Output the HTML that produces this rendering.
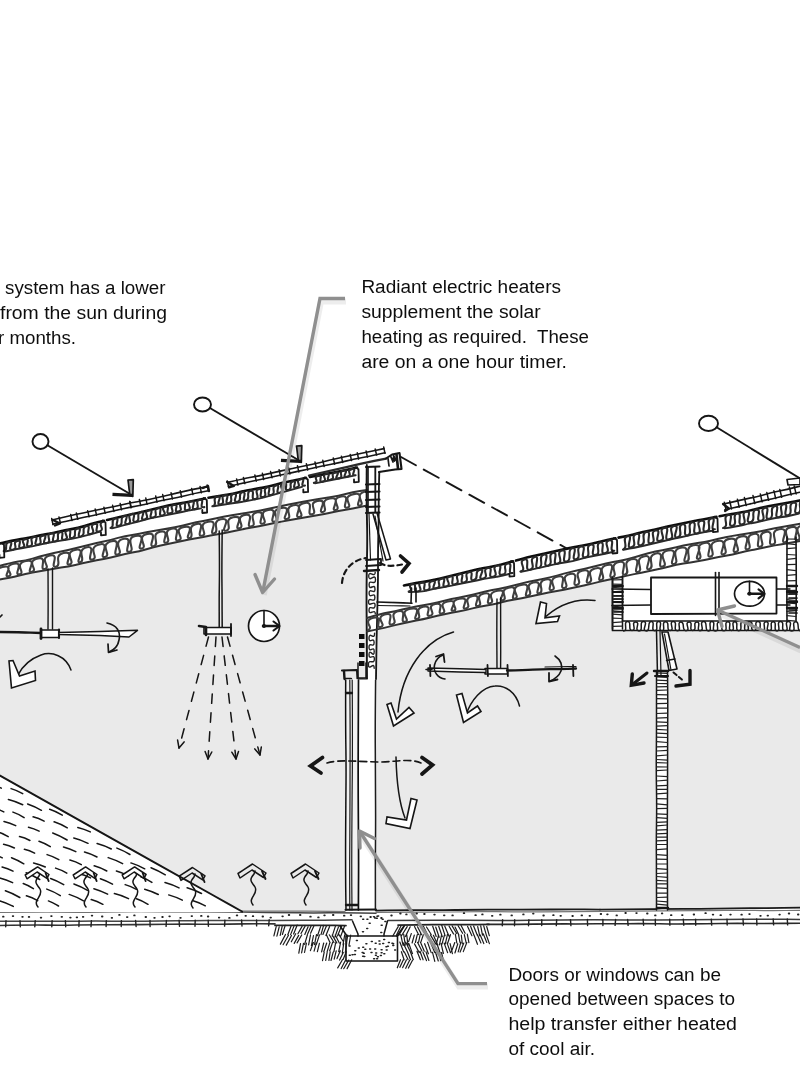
<!DOCTYPE html>
<html><head><meta charset="utf-8"><title>Section diagram</title>
<style>html,body{margin:0;padding:0;background:#fff}svg{display:block}</style>
</head><body>
<svg width="800" height="1077" viewBox="0 0 800 1077">
<defs><filter id="soft" x="0" y="0" width="100%" height="100%"><feGaussianBlur stdDeviation="0.4"/></filter></defs>
<rect width="800" height="1077" fill="#fff"/>
<g filter="url(#soft)" stroke-linecap="round" stroke-linejoin="round">
<path d="M0 579.3 L80 564 L125 554.5 L170 543.5 L250 528 L367 505.5 L367 679 L345.5 679 L345.5 912 L242 912 L0 775.6Z" fill="#eaeaea"/>
<path d="M375.5 629.6 L440 615 L540 594.5 L612.5 579 L612.5 630 L800 630 L800 908 L600 910 L375.5 911Z" fill="#eaeaea"/>
<path d="M0 912 Q31.3 911.9 47 911.8 Q62.7 911.8 78.3 911.9 Q94 912 109.7 911.8 Q125.3 911.6 141 911.6 Q156.7 911.6 172.3 911.7 Q188 911.9 203.7 911.8 Q219.3 911.8 235 912 Q250.7 912.3 266.3 912.4 Q282 912.6 297.7 912.8 Q313.3 913 329 912.8 Q344.7 912.7 360.3 913 L376 913.2" fill="none" stroke="#444" stroke-width="1.5" />
<path d="M0 910.6 Q31.4 910.4 47 910.2 Q62.7 910.1 78.4 910.3 Q94.1 910.5 109.8 910.4 Q125.5 910.3 141.1 910.1 Q156.8 909.8 172.5 910.3 Q188.2 910.7 203.9 910.8 Q219.5 911 235.2 911 Q250.9 911 266.6 911.1 Q282.3 911.2 298 911.2 Q313.6 911.1 329.3 911.4 L345 911.6" fill="none" stroke="#777" stroke-width="1.2" />
<path d="M376 910.6 Q408 910 424 910.2 Q440 910.3 456 910 Q472 909.7 488 909.7 Q504 909.7 520 909.7 Q536 909.6 552 909.5 Q568 909.3 584 909.4 L600 909.6" fill="none" stroke="#1a1a1a" stroke-width="1.8" />
<path d="M600 909.6 Q633.3 909.2 650 909.1 Q666.7 908.9 683.3 908.9 Q700 908.9 716.7 908.6 Q733.3 908.3 750 908.2 Q766.7 908.1 783.3 907.8 L800 907.6" fill="none" stroke="#1a1a1a" stroke-width="1.8" />
<path d="M376 912.3 Q406.3 912.2 421.4 912.2 Q436.6 912.1 451.7 912 Q466.9 911.8 482 911.7 Q497.1 911.6 512.3 911.8 Q527.4 912 542.6 911.9 Q557.7 911.8 572.9 911.7 Q588 911.6 603.1 911.4 Q618.3 911.3 633.4 911.1 Q648.6 910.9 663.7 910.8 Q678.9 910.7 694 910.6 Q709.1 910.6 724.3 910.4 Q739.4 910.2 754.6 910.4 Q769.7 910.7 784.9 910.5 L800 910.3" fill="none" stroke="#777" stroke-width="1.2" />
<path d="M0 921.3 Q32 921.2 48 921.3 Q64 921.4 80 921.2 Q96 921 112 921.2 Q128 921.3 144 921.2 Q160 921.1 176 920.8 Q192 920.5 208 920.4 Q224 920.4 240 920.5 Q256 920.6 272 920.4 Q288 920.2 304 920.2 Q320 920.3 336 920 L352 919.8" fill="none" stroke="#444" stroke-width="1.5" />
<path d="M388 920.6 Q419.7 920.4 435.5 920.3 Q451.4 920.2 467.2 920.3 Q483.1 920.4 498.9 920.4 Q514.8 920.4 530.6 920.2 Q546.5 920 562.3 919.9 Q578.2 919.8 594 919.8 Q609.8 919.9 625.7 920 Q641.5 920.1 657.4 920 Q673.2 919.9 689.1 919.7 Q704.9 919.4 720.8 919.4 Q736.6 919.4 752.5 919.3 Q768.3 919.3 784.2 919.3 L800 919.4" fill="none" stroke="#3a3a3a" stroke-width="1.5" />
<path d="M0 925.5 Q30.6 924.9 45.8 925.1 Q61.1 925.3 76.4 925 Q91.7 924.6 106.9 924.7 Q122.2 924.7 137.5 924.6 Q152.8 924.4 168.1 924.3 Q183.3 924.1 198.6 924.2 Q213.9 924.4 229.2 924.1 Q244.4 923.8 259.7 923.8 L275 923.9" fill="none" stroke="#333" stroke-width="1.6" />
<path d="M487 924.4 Q518.3 924.4 533.9 924.1 Q549.6 923.9 565.2 923.9 Q580.9 924 596.5 923.8 Q612.2 923.7 627.8 923.7 Q643.5 923.6 659.2 923.8 Q674.8 924.1 690.5 923.9 Q706.1 923.8 721.8 923.5 Q737.4 923.3 753.1 923.5 Q768.7 923.6 784.4 923.4 L800 923.2" fill="none" stroke="#2a2a2a" stroke-width="1.6" />
<path d="M6 920.8 L5.7 926.8 M20 920.8 L20.3 926.8 M35.2 920.7 L34.8 926.7 M52.1 920.7 L51.8 926.7 M65.4 920.7 L65.7 926.7 M79.1 920.6 L78.9 926.6 M91.4 920.6 L91 926.6 M106.3 920.6 L106.1 926.6 M121.4 920.6 L121.2 926.6 M135.6 920.5 L136.1 926.5 M150 920.5 L150.1 926.5 M166.4 920.4 L166.1 926.4 M179.1 920.3 L179.5 926.3 M195.2 920.2 L195 926.2 M208.2 920.2 L208.4 926.2 M224.9 920.1 L224.6 926.1 M241.6 920 L242 926 M256.6 919.9 L256.6 925.9 M269.2 919.8 L268.7 925.8 M502.6 919.8 L502.3 925.8 M514.7 919.7 L514.5 925.7 M528.9 919.7 L528.5 925.7 M541.8 919.6 L541.7 925.6 M556.7 919.6 L556.3 925.6 M570.5 919.6 L570.9 925.6 M587.4 919.5 L587.6 925.5 M602.9 919.5 L602.9 925.5 M615.6 919.4 L615.1 925.4 M627.6 919.4 L628.1 925.4 M643.1 919.3 L643.6 925.3 M655.3 919.3 L655.4 925.3 M669.7 919.3 L669.9 925.3 M683.3 919.2 L683.8 925.2 M695.6 919.2 L695.7 925.2 M711.3 919.1 L711.7 925.1 M727 919.1 L727.2 925.1 M743 919 L743.4 925 M756.7 919 L756.9 925 M773.2 918.9 L773.6 924.9 M787.3 918.9 L787.6 924.9 " fill="none" stroke="#222" stroke-width="1.4" />
<path d="M3 916.7 h0.6 M12.7 916.1 h0.6 M22.2 916.8 h0.6 M28.7 916.9 h0.6 M40.7 917.7 h0.6 M51.1 916.1 h0.6 M61.5 916.8 h0.6 M70.1 917.6 h0.6 M76.6 917.3 h0.6 M82.8 916.8 h0.6 M91.7 915.6 h0.6 M101.9 916.5 h0.6 M111.6 917.8 h0.6 M119.1 914.9 h0.6 M126.9 917.1 h0.6 M134.1 915.4 h0.6 M145.5 917 h0.6 M154.2 917.8 h0.6 M162.2 917 h0.6 M169.3 916.3 h0.6 M180.2 917.8 h0.6 M191.5 916.1 h0.6 M201 915.9 h0.6 M207.8 916.5 h0.6 M218.8 917.6 h0.6 M229.1 917.9 h0.6 M236.7 915.4 h0.6 M245.4 915.8 h0.6 M252.7 916.2 h0.6 M262.5 916.5 h0.6 M270.4 917.6 h0.6 M282.3 916.3 h0.6 M288.7 915 h0.6 M299.9 915 h0.6 M310.2 916.7 h0.6 M318.1 917.4 h0.6 M324.2 915.3 h0.6 M332.9 915 h0.6 M343.9 915.7 h0.6 M350.7 915.1 h0.6 M360.5 916.3 h0.6 M370.3 917 h0.6 M381.1 918 h0.6 M391.2 915.5 h0.6 M400.1 913.5 h0.6 M406.1 914.4 h0.6 M416.4 913.5 h0.6 M424.1 914 h0.6 M434.2 914.6 h0.6 M443.9 915.3 h0.6 M452.3 915.4 h0.6 M463.7 913.2 h0.6 M475.3 915.2 h0.6 M482.1 914.4 h0.6 M491.9 915.8 h0.6 M500.1 914.7 h0.6 M511.4 915.4 h0.6 M523.1 914.4 h0.6 M533 913.6 h0.6 M543.3 915.5 h0.6 M553.1 915.2 h0.6 M560.4 915.8 h0.6 M572.3 916 h0.6 M581.5 915.4 h0.6 M589.5 915.8 h0.6 M600.6 914 h0.6 M607.1 914.3 h0.6 M616.4 915.4 h0.6 M625.3 913 h0.6 M636.2 913.1 h0.6 M647 913.5 h0.6 M655 915.4 h0.6 M661.8 913.4 h0.6 M670.9 915.2 h0.6 M682 915.1 h0.6 M693.6 914.5 h0.6 M705.3 913.2 h0.6 M712.7 914.6 h0.6 M720.4 915.2 h0.6 M730.2 914.6 h0.6 M741.3 914.7 h0.6 M749.2 914.1 h0.6 M760.2 915.8 h0.6 M767.5 915.6 h0.6 M779.3 914.6 h0.6 M788.7 913.5 h0.6 M797.9 914.5 h0.6 " fill="none" stroke="#222" stroke-width="1.8" />
<path d="M-3 566.7 Q11.2 562.8 18.3 561.6 Q25.5 560.5 32.6 558.6 Q39.7 556.6 46.8 554.8 Q53.9 553.1 61 551.6 Q68.2 550.2 75.3 548.3 Q82.4 546.5 89.5 544.8 Q96.6 543 103.7 541.5 Q110.8 539.9 118 537.9 Q125.1 536 132.2 534.9 Q139.3 533.8 146.4 532.3 Q153.5 530.8 160.7 529.7 Q167.8 528.7 174.9 527.2 Q182 525.8 189.1 524 Q196.2 522.2 203.3 521 Q210.5 519.7 217.6 518.1 Q224.7 516.5 231.8 515.3 Q238.9 514.1 246 512.9 Q253.2 511.7 260.3 510.4 Q267.4 509.1 274.5 507.5 Q281.6 505.9 288.7 504.5 Q295.8 503.1 303 501.7 Q310.1 500.3 317.2 499.2 Q324.3 498.1 331.4 497 Q338.5 495.8 345.7 494 Q352.8 492.2 359.9 491.1 L367 490" fill="none" stroke="#333" stroke-width="2" />
<path d="M-3 579.9 Q11.2 577.5 18.3 575.7 Q25.5 573.9 32.6 572.6 Q39.7 571.3 46.8 570 Q53.9 568.7 61 567.6 Q68.2 566.5 75.3 564.9 Q82.4 563.3 89.5 561.8 Q96.6 560.3 103.7 559 Q110.8 557.6 118 555.8 Q125.1 554 132.2 552.6 Q139.3 551.3 146.4 549.2 Q153.5 547.1 160.7 545.6 Q167.8 544.1 174.9 542.5 Q182 540.9 189.1 539.5 Q196.2 538.1 203.3 536.9 Q210.5 535.7 217.6 534.3 Q224.7 532.8 231.8 531.4 Q238.9 530 246 528.6 Q253.2 527.3 260.3 526 Q267.4 524.7 274.5 523.1 Q281.6 521.5 288.7 520.2 Q295.8 518.8 303 517.7 Q310.1 516.6 317.2 515.2 Q324.3 513.9 331.4 512.4 Q338.5 511 345.7 509.8 Q352.8 508.7 359.9 507.1 L367 505.5" fill="none" stroke="#333" stroke-width="2" />
<path d="M-3.8 579 C2.9 577.4 -9 569.9 2.5 567.1 C16.4 563.8 1.2 578 8.7 576.2 C15.4 574.6 0.7 566.9 13.7 563.8 C25.5 561 12.3 576 19.7 574.2 C26 572.7 13 564.2 25.8 561.1 C39.4 557.9 24.3 573.6 32 571.8 C39 570.1 24.8 561.5 37.9 558.4 C48.5 555.9 38.4 570.6 44.8 569 C51.9 567.4 37.8 558.5 49.9 555.6 C61 553 48.7 568.4 56.2 566.7 C62.5 565.1 52.7 555.6 63.4 553 C76.5 549.9 62.7 566.1 69.4 564.5 C76.5 562.8 62.9 552.7 74.8 549.9 C88.2 546.7 73.7 563.8 80.2 562.2 C86.8 560.7 75.1 550 86.9 547.2 C97.3 544.8 85.1 561.3 92.6 559.5 C99.7 557.8 86.1 547.5 99.5 544.4 C111.7 541.5 97.4 558.8 105 557 C112.4 555.2 98 544.4 111.7 541.2 C123.5 538.4 110.2 556.3 117.7 554.5 C125 553 110.8 541.6 123.9 538.8 C134.5 536.7 122.6 553.1 129.3 551.8 C136.5 550.4 123.9 538.1 135.5 535.9 C149.2 533.2 134.5 550 141.7 548.5 C148.8 547.2 135 536.3 147.4 533.9 C160.1 531.4 146.3 547.6 153.6 546.2 C160.7 544.8 149.7 533.7 160.1 531.7 C171.9 529.3 159.8 544 166.2 542.7 C172.8 541.4 160.8 530.9 171.5 528.8 C183.6 526.4 170.9 541.9 178.5 540.4 C185.9 539 171.5 529.3 184.1 526.9 C197.2 524.3 183.2 539.3 189.5 538.1 C196 536.8 184.7 526.3 196.8 523.9 C207.3 521.8 194.6 537.2 202.2 535.7 C209 534.4 195.7 524.2 208.2 521.8 C220.5 519.3 207.4 534.7 214.1 533.4 C220.7 532.1 210.4 521.3 220.7 519.2 C233.8 516.7 219 532.1 225.9 530.7 C233.5 529.2 222.6 519.2 233.1 517.2 C246.7 514.5 232.4 529.7 239.2 528.3 C246.3 526.9 233.5 517.1 244.7 514.9 C256.7 512.6 243.7 527.9 251.4 526.4 C258.5 525 246.5 514.4 257.3 512.3 C267.8 510.3 255.8 525.1 262.8 523.7 C269.7 522.4 255.7 512.3 268.4 509.9 C280.3 507.7 267.3 523 274.7 521.6 C282 520.3 267.3 510.6 281.1 508 C294.7 505.5 279.4 520.4 286.8 519 C294 517.6 282.1 507.4 293.4 505.3 C306 502.9 292 518.4 299.4 517 C306.9 515.6 291 505.5 304.9 502.9 C315.4 501 305.3 515.5 311.9 514.3 C319 513 306.7 502.9 317.4 500.9 C330.1 498.5 315.9 513.3 322.9 512 C329.5 510.8 317.7 500.7 329.8 498.5 C343.2 496 329.1 511.3 335.5 510.1 C342.8 508.8 328.6 498.9 341.2 496.5 C352.5 494.4 340 509 347.4 507.6 C354.1 506.3 339.8 496.7 353.7 494.1 C367.3 491.6 353.1 506.8 360 505.5 C366.4 504.3 352.3 494 365.8 491.5" fill="none" stroke="#404040" stroke-width="2.1" />
<path d="M0 543.6 Q13 540.5 19.5 539.4 Q26 538.4 32.5 537 Q39 535.6 45.5 534.4 Q52 533.2 58.5 531.7 Q65 530.1 71.5 529.1 Q78 528 84.5 525.9 Q91 523.8 97.5 522.3 L104 520.8" fill="none" stroke="#111" stroke-width="2.6" />
<path d="M5 551.5 Q18.6 548.6 25.4 547.5 Q32.1 546.5 38.9 544.8 Q45.7 543.1 52.5 542 Q59.3 540.8 66.1 539.7 Q72.9 538.7 79.6 537.1 Q86.4 535.5 93.2 533.6 L100 531.6" fill="none" stroke="#2a2a2a" stroke-width="1.9" />
<path d="M3.7 551 C9.4 549.9 2.9 543.4 8.6 542.3 C15.9 540.8 5.6 551.1 12.9 549.7 C19.2 548.4 11.2 542.2 17.5 540.9 C23.6 539.7 15.5 549 21.6 547.8 C28.9 546.3 18.2 540.6 25.4 539.2 C31.6 537.9 23.3 547.4 29.5 546.2 C35.7 544.9 27.7 538.3 33.9 537 C41 535.6 31 546.1 38 544.6 C44.6 543.3 36.2 536.9 42.8 535.6 C50 534.1 39.4 544.6 46.6 543.1 C53.1 541.8 44.6 534.6 51 533.3 C58.4 531.8 48.4 542.8 55.7 541.3 C61.3 540.1 54.6 533.2 60.2 532.1 C65.8 530.9 58.7 540.9 64.3 539.8 C71.6 538.3 60.8 531.7 68 530.3 C73.7 529.1 66.5 539.2 72.3 538 C78.3 536.8 71.6 529.7 77.5 528.5 C84 527 74.6 537.8 81.1 536.3 C87.2 534.6 80 527.8 86.2 526.2 C92.6 524.4 84.3 535.7 90.7 533.9 C97.6 532.1 87.6 525.9 94.4 524.1 C101.5 522.1 92.2 533.4 99.3 531.4 C106.3 529.5 96.2 523.7 103.2 521.8" fill="none" stroke="#2a2a2a" stroke-width="2.1" />
<path d="M107 520 Q119.2 517.1 125.4 515.7 Q131.5 514.3 137.6 513 Q143.8 511.6 149.9 510 Q156 508.4 162.1 506.9 Q168.2 505.4 174.4 504.3 Q180.5 503.3 186.6 502.2 Q192.8 501.1 198.9 499.7 L205 498.4" fill="none" stroke="#111" stroke-width="2.6" />
<path d="M112 528.4 Q124.7 525 131.1 523.4 Q137.4 521.8 143.8 520.1 Q150.1 518.3 156.5 517.1 Q162.9 515.9 169.2 514.6 Q175.6 513.4 181.9 512 Q188.3 510.5 194.6 509.5 L201 508.4" fill="none" stroke="#2a2a2a" stroke-width="1.9" />
<path d="M110.5 528 C116 526.5 109.4 520.1 114.9 518.6 C121.6 516.8 112.6 527.5 119.2 525.7 C124.7 524.4 118.6 517.2 124.1 515.9 C131.2 514.3 120.7 525.5 127.9 523.9 C133.6 522.6 125.7 515.2 131.5 513.9 C138.2 512.4 129.2 523.1 136 521.6 C141.7 520.2 135 513.4 140.7 512 C147.6 510.5 137.7 521 144.5 519.4 C151.5 517.8 141.8 511.9 148.8 510.3 C155.9 508.7 146.2 519 153.2 517.4 C159.7 515.9 151.6 509.7 158.1 508.2 C163.9 506.9 156.6 516.7 162.4 515.4 C169.3 513.8 158.4 508.3 165.3 506.7 C171.7 505.2 163.6 514.8 170 513.3 C176.7 512.1 167.5 506.2 174.1 505 C180.4 503.8 172 512.7 178.3 511.5 C185 510.2 175.9 504.5 182.7 503.2 C188.4 502.1 181.6 511.2 187.2 510.1 C194.3 508.8 184 502.6 191.1 501.3 C198.3 499.9 188.3 510.4 195.6 509 C201.2 507.9 193.8 500.9 199.4 499.9 C206.4 498.5 197.4 508.4 204.4 507.1" fill="none" stroke="#2a2a2a" stroke-width="2.1" />
<path d="M208.5 497.7 Q220.7 496 226.8 494.9 Q232.9 493.7 239 492.2 Q245.1 490.7 251.2 489.7 Q257.2 488.7 263.3 487.6 Q269.4 486.6 275.5 484.8 Q281.6 483 287.7 481.8 Q293.8 480.6 299.9 479.2 L306 477.8" fill="none" stroke="#111" stroke-width="2.6" />
<path d="M213.5 506.3 Q226.1 504.1 232.5 503.3 Q238.8 502.6 245.1 501.3 Q251.4 500 257.8 498.9 Q264.1 497.8 270.4 495.7 Q276.7 493.6 283 492.1 Q289.4 490.7 295.7 488.7 L302 486.8" fill="none" stroke="#2a2a2a" stroke-width="1.9" />
<path d="M212.4 506.3 C218.8 505.1 210.8 497.7 217.2 496.5 C224.1 495.3 214 505.5 220.9 504.3 C226.4 503.3 219.3 496.1 224.8 495.1 C231.6 493.9 222.3 504.3 229 503.1 C234.6 502.1 227.8 494.9 233.3 493.9 C240.5 492.6 230.4 503 237.6 501.7 C243 500.7 237 493.3 242.4 492.3 C248.2 491.3 240.2 501.5 246 500.5 C251.3 499.5 245.1 491.7 250.4 490.7 C256.2 489.7 249.5 500.2 255.2 499.1 C261.3 498 252.8 490.2 258.9 489.1 C264.9 487.8 257 498.3 263 497 C268.9 495.7 261.2 488.8 267 487.4 C273 486 265 496.4 270.9 495 C277.7 493.5 269.5 487 276.2 485.4 C281.7 484.1 274 494 279.5 492.8 C286.2 491.2 276.8 484.6 283.5 483.1 C289.6 481.7 282.4 491.4 288.5 490 C294 488.7 287.3 482.7 292.9 481.5 C298.5 480.2 290.6 488.9 296.2 487.6 C303.3 486 293.6 480.8 300.7 479.1 C307.3 477.6 298.3 487.1 304.9 485.6" fill="none" stroke="#2a2a2a" stroke-width="2.1" />
<path d="M310 476.9 Q325.7 474 333.5 472.5 Q341.3 471 349.2 469.3 L357 467.6" fill="none" stroke="#111" stroke-width="2.6" />
<path d="M315 483.4 Q327.7 480.8 334 479.5 Q340.3 478.2 346.7 477 L353 475.9" fill="none" stroke="#2a2a2a" stroke-width="1.9" />
<path d="M313.9 482.9 C320.7 481.5 311.6 477.2 318.5 475.9 C323.9 474.8 317.2 482.7 322.6 481.6 C329.2 480.3 319.8 475.1 326.4 473.8 C332.7 472.6 323.9 481.1 330.2 479.8 C336.8 478.5 328.9 473.8 335.4 472.5 C342.5 471.1 331.7 479.8 338.7 478.4 C345 477.2 337.2 471.8 343.5 470.5 C350.7 469.1 339.9 478.1 347.1 476.7 C354 475.4 344.9 470.5 351.8 469.1 C358.4 467.9 349 476.5 355.6 475.2" fill="none" stroke="#2a2a2a" stroke-width="2.1" />
<path d="M1 542.8 L4 544.8 L4.3 557.3 L-0.5 557.8 L-0.5 554.8" fill="none" stroke="#151515" stroke-width="1.8" />
<path d="M102.5 520.4 L105.5 522.4 L105.8 534.9 L101 535.4 L101 532.4" fill="none" stroke="#151515" stroke-width="1.8" />
<path d="M203.8 498 L206.8 500 L207.1 512.5 L202.3 513 L202.3 510" fill="none" stroke="#151515" stroke-width="1.8" />
<path d="M304.8 477.4 L307.8 479.4 L308.1 491.9 L303.3 492.4 L303.3 489.4" fill="none" stroke="#151515" stroke-width="1.8" />
<path d="M355.5 467.3 L358.5 469.3 L358.8 481.8 L354 482.3 L354 479.3" fill="none" stroke="#151515" stroke-width="1.8" />
<path d="M52 520 Q67.5 516.3 75.3 514.5 Q83.1 512.8 90.9 511.2 Q98.7 509.6 106.6 508 Q114.4 506.5 122.2 504.7 L130 503" fill="none" stroke="#151515" stroke-width="1.6" />
<path d="M52.9 524.1 Q68.5 520.9 76.3 519 Q84.1 517.1 91.9 515.7 Q99.8 514.3 107.5 512.3 Q115.3 510.4 123.1 508.7 L130.9 507.1" fill="none" stroke="#151515" stroke-width="1.6" />
<path d="M51.7 518.5 L53 524.7 M59 516.9 L60.4 523.1 M70.7 514.4 L72 520.6 M76.4 513.1 L77.8 519.3 M87.7 510.7 L89.1 516.8 M95.2 509.1 L96.5 515.2 M103.9 507.2 L105.2 513.3 M112.6 505.3 L113.9 511.4 M120.2 503.6 L121.5 509.8 M129.7 501.5 L131 507.7 " fill="none" stroke="#151515" stroke-width="1.5" />
<path d="M130 503 Q145.6 500.2 153.3 498.5 Q161.1 496.8 168.8 495 Q176.5 493.3 184.2 491.4 Q191.9 489.5 199.7 488.1 L207.5 486.6" fill="none" stroke="#151515" stroke-width="1.6" />
<path d="M130.9 507.1 Q146.4 504.1 154.1 502.2 Q161.8 500.3 169.6 499 Q177.5 497.7 185.1 495.7 Q192.8 493.7 200.6 492.2 L208.4 490.7" fill="none" stroke="#151515" stroke-width="1.6" />
<path d="M129.9 501.5 L131.2 507.6 M139.4 499.5 L140.7 505.6 M145.8 498.1 L147.1 504.3 M155.7 496 L157 502.2 M162.7 494.6 L164 500.7 M171.1 492.8 L172.4 498.9 M180.3 490.8 L181.6 497 M191.6 488.4 L192.9 494.6 M200.1 486.6 L201.4 492.8 M207.2 485.1 L208.5 491.3 " fill="none" stroke="#151515" stroke-width="1.5" />
<path d="M227.6 482.4 Q243.2 478.8 251.1 477.3 Q258.9 475.8 266.7 474.1 Q274.6 472.5 282.4 470.6 Q290.1 468.8 298 467.2 Q305.8 465.6 313.7 464 Q321.5 462.4 329.2 460.3 Q337 458.3 344.8 456.7 Q352.7 455.1 360.5 453.5 Q368.4 451.9 376.2 450.3 L384 448.6" fill="none" stroke="#151515" stroke-width="1.6" />
<path d="M228.5 486.5 Q244.1 482.8 251.9 481.2 Q259.7 479.6 267.6 478 Q275.4 476.4 283.2 474.5 Q291 472.7 298.8 471.1 Q306.7 469.6 314.5 467.8 Q322.3 466 330.1 464.5 Q338 462.9 345.8 461.1 Q353.6 459.3 361.4 457.8 Q369.3 456.2 377.1 454.5 L384.9 452.7" fill="none" stroke="#151515" stroke-width="1.6" />
<path d="M227.3 480.9 L228.6 487.1 M236.6 478.9 L237.9 485.1 M243.4 477.4 L244.8 483.6 M254.9 475 L256.3 481.1 M262.4 473.3 L263.7 479.5 M270.6 471.6 L272 477.7 M279.1 469.7 L280.4 475.9 M288.5 467.7 L289.9 473.9 M297.5 465.8 L298.8 471.9 M306.4 463.8 L307.7 470 M315 462 L316.4 468.1 M322.8 460.3 L324.1 466.4 M333.3 458 L334.6 464.2 M341.4 456.3 L342.7 462.4 M350.2 454.4 L351.5 460.5 M357.3 452.8 L358.6 459 M366.1 450.9 L367.4 457.1 M375.2 449 L376.6 455.1 M383.7 447.1 L385 453.3 " fill="none" stroke="#151515" stroke-width="1.5" />
<path d="M53 520 L60 523.5 L55 525.5" fill="none" stroke="#151515" stroke-width="2.2" />
<path d="M227 482 L234 486 L229 487.5" fill="none" stroke="#151515" stroke-width="2.2" />
<path d="M203 488 L208 486 L209 491" fill="none" stroke="#151515" stroke-width="2.3" />
<ellipse cx="40.5" cy="441.5" rx="8" ry="7.5" fill="#fff" stroke="#151515" stroke-width="1.9"/>
<path d="M47.4 445.3 Q89.2 469.9 110.1 482.2 L131 494.5" fill="none" stroke="#151515" stroke-width="1.9" />
<ellipse cx="202.5" cy="404.5" rx="8.5" ry="7" fill="#fff" stroke="#151515" stroke-width="1.9"/>
<path d="M209.9 408 Q254.9 434.5 277.5 447.8 L300 461" fill="none" stroke="#151515" stroke-width="1.9" />
<ellipse cx="708.5" cy="423.4" rx="9.5" ry="7.6" fill="#fff" stroke="#151515" stroke-width="1.9"/>
<path d="M716.6 427.3 Q758.8 453.1 779.9 466.1 L801 479" fill="none" stroke="#151515" stroke-width="1.9" />
<path d="M128 480 L133.3 479.7 L132.8 496.5 L129.9 495.5Z" fill="#999" stroke="#151515" stroke-width="1.7" />
<path d="M112.5 494.3 L132.5 495.3" fill="none" stroke="#151515" stroke-width="3.2" stroke-linecap="butt"/>
<path d="M296.5 446 L301.8 445.7 L301.3 462.5 L298.4 461.5Z" fill="#999" stroke="#151515" stroke-width="1.7" />
<path d="M281 460.3 L301 461.3" fill="none" stroke="#151515" stroke-width="3.2" stroke-linecap="butt"/>
<path d="M787 479.5 L800 478 L800 484.5 L788 485Z" fill="#fff" stroke="#151515" stroke-width="1.6" />
<path d="M366.8 465 Q366.4 491.8 366.7 505.1 Q367 518.5 367.2 531.9 Q367.3 545.2 367 558.6 Q366.7 572 366.6 585.4 Q366.5 598.8 366.6 612.1 Q366.7 625.5 366.8 638.9 Q366.9 652.3 366.9 665.6 L367 679" fill="none" stroke="#151515" stroke-width="1.9" />
<path d="M379.3 472 Q378.6 497.9 378.7 510.8 Q378.7 523.8 378.3 536.7 Q378 549.6 378 562.6 Q378.1 575.5 377.8 588.4 Q377.6 601.4 377.2 614.3 Q376.9 627.3 376.6 640.2 Q376.4 653.1 376.2 666.1 L376 679" fill="none" stroke="#151515" stroke-width="1.8" />
<path d="M309 475.5 Q334.6 469.8 347.5 466.8 Q360.3 463.9 373.1 461.2 L386 458.6" fill="none" stroke="#2a2a2a" stroke-width="2.3" />
<path d="M379 472 L395 469.5 L401.5 469 L399.5 453 L392 454.5 L386 458.5" fill="none" stroke="#151515" stroke-width="2.1" />
<path d="M388 458.5 L389 466" fill="none" stroke="#151515" stroke-width="1.7" />
<path d="M396.5 454.5 L398 468.5" fill="none" stroke="#151515" stroke-width="2.6" />
<path d="M390.5 456 L393 462 L391 457 L394.5 461 L393.5 455.5 L396 460" fill="none" stroke="#151515" stroke-width="1.7" />
<path d="M366 467 L379.5 466.5" fill="none" stroke="#151515" stroke-width="2.1" />
<path d="M366 484.5 L379.5 484" fill="none" stroke="#151515" stroke-width="2.1" />
<path d="M366 492 L379.5 491.5" fill="none" stroke="#151515" stroke-width="2.1" />
<path d="M366 500 L379.5 499.5" fill="none" stroke="#151515" stroke-width="2.1" />
<path d="M366 507 L379.5 506.5" fill="none" stroke="#151515" stroke-width="2.1" />
<path d="M366 513 L379.5 512.5" fill="none" stroke="#151515" stroke-width="2.1" />
<path d="M368 467 L368 512" fill="none" stroke="#151515" stroke-width="1.6" />
<path d="M375.3 467 L375.3 512" fill="none" stroke="#151515" stroke-width="1.8" />
<path d="M373 514 L386 560 L390.5 559 L377 513" fill="none" stroke="#151515" stroke-width="1.5" />
<path d="M375 516 L383 561" fill="none" stroke="#151515" stroke-width="1.2" />
<path d="M369 514 L370.5 560" fill="none" stroke="#151515" stroke-width="1.2" />
<path d="M366 560 L381 559 L381 565 L366 566" fill="none" stroke="#151515" stroke-width="1.8" />
<path d="M364 571 L379 570" fill="none" stroke="#151515" stroke-width="2.4" />
<path d="M375.2 572.3 C375.2 578.5 368.7 569.7 368.7 575.9 C368.7 583.6 375.5 572.1 375.5 579.8 C375.5 586.4 369.1 578.3 369.1 584.8 C369.1 592 375 582 375 589.2 C375 595.1 369.1 587.2 369.1 593.1 C369.1 599.9 374.9 590.8 374.9 597.6 C374.9 603.8 368.5 595.8 368.5 602 C368.5 607.9 375.1 599.5 375.1 605.3 C375.1 611.8 369 603.8 369 610.4 C369 616.2 375.3 608 375.3 613.8" fill="none" stroke="#222" stroke-width="1.4" />
<path d="M374.6 633.3 C374.6 641.1 369 630.5 369 638.2 C369 644.6 374.1 636.1 374.1 642.5 C374.1 648.6 369 641.2 369 647.3 C369 654.1 374.2 644.7 374.2 651.5 C374.2 659.3 369 647 369 654.8 C369 661 374.4 652.9 374.4 659.1 C374.4 665.1 368.4 658.3 368.4 664.3 C368.4 671.9 374.2 660.7 374.2 668.3" fill="none" stroke="#222" stroke-width="1.4" />
<path d="M342 583 C343 570 352 560 366 558" fill="none" stroke="#151515" stroke-width="2.2" stroke-dasharray="5 4"/>
<path d="M380 563 C386 567 394 566 402 564.5" fill="none" stroke="#151515" stroke-width="2.2" stroke-dasharray="5 4"/>
<path d="M400.5 556 L409 563.5 L402 572" fill="none" stroke="#151515" stroke-width="3.6" stroke-linejoin="miter"/>
<rect x="359" y="634" width="5.5" height="5" fill="#111"/>
<rect x="359" y="643" width="5.5" height="5" fill="#111"/>
<rect x="359" y="652" width="5.5" height="5" fill="#111"/>
<rect x="359" y="661" width="5.5" height="5" fill="#111"/>
<path d="M342 670.5 L357 670 L357.5 679 L366 679.5" fill="none" stroke="#151515" stroke-width="2.1" />
<path d="M344 671 L344.5 679 L351 679" fill="none" stroke="#151515" stroke-width="2.4" />
<path d="M348 680 L347.5 692 L351 692 L351 680" fill="none" stroke="#151515" stroke-width="1.7" />
<path d="M358 663 L358 678 L366 678 L366 663" fill="none" stroke="#151515" stroke-width="1.5" />
<rect x="345.5" y="679.5" width="30" height="230.5" fill="#fff"/>
<rect x="345.5" y="679.5" width="12.5" height="230.5" fill="#f2f2f2"/>
<path d="M345.7 680 Q345.5 726 345.9 749 Q346.2 772 345.9 795 Q345.7 818 345.6 841 Q345.5 864 345.7 887 L346 910" fill="none" stroke="#111" stroke-width="1.5" />
<path d="M349.8 680 Q350.2 726 350.1 749 Q350.1 772 350 795 Q350 818 349.8 841 Q349.6 864 349.7 887 L349.8 910" fill="none" stroke="#1a1a1a" stroke-width="1.2" />
<path d="M352.2 680 Q352.5 726 352.4 749 Q352.4 772 352.1 795 Q351.9 818 351.8 841 Q351.7 864 351.8 887 L352 910" fill="none" stroke="#1a1a1a" stroke-width="1.2" />
<path d="M358.5 680 Q358.3 726 358.2 749 Q358.1 772 358.2 795 Q358.3 818 358.5 841 Q358.7 864 358.5 887 L358.4 910" fill="none" stroke="#111" stroke-width="1.7" />
<path d="M375.6 680 Q375.1 726 375.3 749 Q375.4 772 375.5 795 Q375.7 818 375.5 841 Q375.3 864 375.4 887 L375.4 910" fill="none" stroke="#1a1a1a" stroke-width="1.5" />
<path d="M346 905 L358 905" fill="none" stroke="#151515" stroke-width="2.3" />
<path d="M345.5 909.7 L376 909.5" fill="none" stroke="#151515" stroke-width="1.9" />
<path d="M346 693 L352 693" fill="none" stroke="#151515" stroke-width="2.3" />
<path d="M612.5 579 L680 564.5 L800 541 L800 630 L612.5 630Z" fill="#fff"/>
<path d="M367 618 Q381.1 613.9 388.1 612.6 Q395.1 611.3 402.2 609.5 Q409.2 607.7 416.2 606.4 Q423.3 605.2 430.3 603.9 Q437.3 602.5 444.4 600.7 Q451.4 598.9 458.4 597.7 Q465.5 596.4 472.5 594.7 Q479.5 592.9 486.5 591.3 Q493.6 589.7 500.6 588.5 Q507.6 587.2 514.7 585.2 Q521.7 583.2 528.7 581.7 Q535.8 580.3 542.8 578.9 Q549.8 577.5 556.9 575.6 Q563.9 573.6 570.9 571.9 Q578 570.2 585 568.7 Q592 567.2 599.1 565.3 Q606.1 563.4 613.1 562.1 Q620.2 560.8 627.2 559.2 Q634.2 557.6 641.3 555.3 Q648.3 553.1 655.3 551.6 Q662.4 550.2 669.4 548.7 Q676.4 547.2 683.5 545.5 Q690.5 543.9 697.5 542.9 Q704.5 542 711.6 540.4 Q718.6 538.8 725.6 537.3 Q732.7 535.8 739.7 534.8 Q746.7 533.7 753.8 532.4 Q760.8 531.2 767.8 529.7 Q774.9 528.2 781.9 527.1 Q788.9 526 796 524.6 L803 523.2" fill="none" stroke="#333" stroke-width="2" />
<path d="M367 631.5 Q381.1 628.7 388.1 626.9 Q395.1 625.2 402.2 623.6 Q409.2 622 416.2 620.6 Q423.3 619.2 430.3 617.5 Q437.3 615.8 444.4 614.3 Q451.4 612.7 458.4 611.5 Q465.5 610.3 472.5 608.4 Q479.5 606.5 486.5 605.4 Q493.6 604.4 500.6 602.5 Q507.6 600.7 514.7 599.6 Q521.7 598.4 528.7 596.7 Q535.8 595 542.8 593.7 Q549.8 592.3 556.9 591 Q563.9 589.7 570.9 588.2 Q578 586.7 585 585.2 Q592 583.7 599.1 581.9 Q606.1 580 613.1 578.7 Q620.2 577.3 627.2 575.6 Q634.2 574 641.3 572.7 Q648.3 571.4 655.3 569.8 Q662.4 568.3 669.4 566.5 Q676.4 564.7 683.5 563.6 Q690.5 562.6 697.5 561.3 Q704.5 560 711.6 558.5 Q718.6 557 725.6 555.8 Q732.7 554.6 739.7 552.8 Q746.7 551 753.8 549.7 Q760.8 548.3 767.8 546.8 Q774.9 545.3 781.9 544.3 Q788.9 543.2 796 541.8 L803 540.4" fill="none" stroke="#333" stroke-width="2" />
<path d="M367.9 629.9 C375 628 361 621 373.5 617.8 C384.5 615 373.9 628.7 380.7 626.9 C387.7 625.1 373 617.6 385.7 614.3 C396.5 611.5 384.7 626.3 392.2 624.4 C399.5 622.5 387.2 614 398.2 611.1 C408.8 609 398.3 623.1 405.2 621.7 C411.6 620.5 396.7 611.3 410.7 608.7 C424.7 606 410.5 620.2 417 619 C423.7 617.7 412.5 608.7 423.1 606.7 C434.9 604.5 423.1 617.1 429.8 615.8 C437.6 614.4 424.7 605.9 435.3 603.9 C446.5 601.7 435.2 614.9 441.9 613.5 C449.5 611.8 435.6 604.1 447.7 601.4 C461.7 598.3 446.4 612.3 453.6 610.7 C460 609.3 446.5 601.7 459.3 598.8 C472.9 595.8 458.6 610.1 465.8 608.5 C473.3 606.8 460.8 598.8 472.7 596.1 C483.9 593.6 471.3 607.5 478.1 606 C484.7 604.5 472.9 595.9 484 593.5 C495.5 590.9 483.2 604.8 490.1 603.2 C496.8 601.7 483.8 593.9 497.4 590.8 C510.3 587.9 495.8 601.9 502.6 600.4 C509.3 598.9 497.5 590.1 508.6 587.7 C521.6 584.7 508.2 600 514.9 598.5 C521.7 596.9 507.1 588.1 521 585 C534.7 581.9 521.3 597.2 527.7 595.8 C535.3 594.1 522.5 584.9 533.2 582.5 C545.5 579.7 532.9 594.7 539.3 593.3 C545.9 591.7 535 582.1 545.5 579.6 C557.1 576.8 545 591.8 551.9 590.1 C558.6 588.5 545 579.7 558 576.6 C568.9 573.9 557.7 589.5 564.4 587.9 C571.3 586.3 558 576.9 569.9 574.1 C581.4 571.3 570 586.6 576.8 584.9 C584.1 583.2 571.5 573.2 582 570.7 C596 567.3 581.9 584.3 588.7 582.7 C596 580.9 583.7 571.1 594.9 568.4 C608.5 565.1 594.4 581.7 601.1 580.1 C607.9 578.5 595.1 567.8 607.1 564.9 C618.8 562.1 605.4 578.8 612.5 577.1 C619.5 575.4 607 564.9 618.9 562 C630.2 559.3 618.4 576.2 624.9 574.6 C632 572.9 620.3 562 631.2 559.3 C644.2 556.2 631.5 573.4 637.9 571.9 C644.8 570.2 632.9 558.9 643.6 556.4 C656.1 553.4 642.2 570.9 649.2 569.2 C656 567.5 645.2 555.9 655.7 553.4 C667.1 550.7 655.4 568.3 662.6 566.6 C670.3 564.7 655.1 553.7 667.8 550.6 C681.7 547.3 666.7 565.7 674.1 563.9 C681.1 562.3 668.7 550.7 680.6 547.8 C694.3 545.3 679.4 562.9 686.3 561.6 C693.3 560.3 682.4 547.2 693.3 545.2 C707.3 542.6 692 560.1 698.6 558.9 C705.2 557.6 691.6 545.4 704.5 543 C716.4 540.8 703.7 557.9 710.4 556.6 C717.6 555.3 704.8 543.3 717.2 541 C731.2 538.4 716.6 555.7 723.4 554.4 C730.8 553.1 717.7 541 729.3 538.9 C743.2 536.3 728.4 553.3 735.9 551.9 C743 550.6 729 538.7 741.3 536.4 C754.4 534 740.6 550.6 747.7 549.3 C754.3 548.1 742 536 753.6 533.9 C764.3 531.9 753.7 548 760.1 546.8 C767.1 545.5 754.9 533.9 765.7 531.9 C776.7 529.9 765.2 546 772.7 544.6 C779.8 543.3 767.7 531.3 779 529.2 C792.1 526.8 778.3 543.4 785 542.2 C792.4 540.8 779.4 529.2 791 527.1 C803.6 524.8 790.4 541.4 797.4 540.1 C804.8 538.7 789.8 527.5 803.3 525" fill="none" stroke="#404040" stroke-width="2.1" />
<path d="M404 585.5 Q416.1 583 422.2 582.1 Q428.2 581.1 434.3 579.9 Q440.3 578.7 446.4 577.1 Q452.4 575.4 458.5 574 Q464.6 572.5 470.6 571 Q476.7 569.4 482.7 568.3 Q488.8 567.2 494.8 566 Q500.9 564.7 506.9 563 L513 561.3" fill="none" stroke="#111" stroke-width="2.6" />
<path d="M409 592.1 Q421.5 591.8 427.8 590.3 Q434 588.7 440.2 587.8 Q446.5 586.8 452.8 585.4 Q459 583.9 465.2 582.8 Q471.5 581.7 477.8 580.3 Q484 578.9 490.2 577.9 Q496.5 577 502.8 575.5 L509 574" fill="none" stroke="#2a2a2a" stroke-width="1.9" />
<path d="M408.7 591.5 C415.3 590.4 405.6 585.2 412.2 584.1 C418.5 583.1 411.5 592.5 417.8 591.5 C425 590.3 414.8 583.8 421.9 582.6 C428.6 581.3 420.2 591.3 426.9 590.1 C433.5 588.6 425.4 582.7 432.1 581.2 C439.7 579.4 428.6 590 436.2 588.3 C443.7 586.6 434.3 580.4 441.8 578.7 C448.1 577.3 439.5 587.9 445.9 586.5 C453.9 584.6 442.1 578.2 450.1 576.4 C456.4 574.9 448.6 585.7 454.9 584.3 C462.2 582.6 452.5 575.8 459.8 574.2 C466.4 572.6 457.6 584 464.2 582.4 C471 580.8 462.3 573.9 469.1 572.2 C475.2 570.7 467.7 581.6 473.8 580.1 C480 578.6 473.3 571.3 479.5 569.9 C487.6 567.9 475 580.5 483.2 578.5 C490.2 576.8 480.9 569.7 487.9 568 C494.8 566.3 486.1 578.5 493 576.8 C500.4 575.1 489.8 567.3 497.2 565.5 C505.2 563.6 494.7 576.5 502.7 574.6 C509.7 572.9 500.8 565.3 507.8 563.6 C514.2 562.1 506.1 574.5 512.5 573" fill="none" stroke="#2a2a2a" stroke-width="2.1" />
<path d="M516 560.6 Q528.4 557.1 534.7 555.8 Q540.9 554.4 547.1 553 Q553.3 551.6 559.5 550.2 Q565.8 548.8 572 547.6 Q578.2 546.4 584.4 545.2 Q590.6 544.1 596.8 542.5 Q603.1 540.8 609.3 539.5 L615.5 538.3" fill="none" stroke="#111" stroke-width="2.6" />
<path d="M521 571.7 Q533.9 569.2 540.4 567.6 Q546.9 565.9 553.3 564.6 Q559.8 563.3 566.2 562.3 Q572.7 561.4 579.2 559.4 Q585.6 557.4 592.1 556.3 Q598.6 555.2 605 553.8 L611.5 552.3" fill="none" stroke="#2a2a2a" stroke-width="1.9" />
<path d="M520.4 571.5 C528.2 569.7 516.8 561.3 524.6 559.4 C530.8 558 523.6 571.2 529.8 569.8 C537.3 568 527.3 558.7 534.8 556.9 C540.9 555.5 532.5 569.3 538.6 567.9 C545.4 566.3 536.9 556.2 543.7 554.7 C551.5 552.9 540.4 567.3 548.2 565.6 C554.9 564.1 546.1 554.4 552.9 552.9 C559.6 551.4 550.8 565.2 557.5 563.7 C565.1 562 554.4 552.2 562 550.5 C569.1 549 559.7 563.1 566.8 561.5 C573.1 560.2 566 549.7 572.2 548.3 C579.2 546.8 569.3 560.7 576.2 559.2 C583.1 557.7 573.9 548 580.7 546.5 C588.8 544.7 577.9 559 585.9 557.3 C592.6 555.8 583.8 546.1 590.5 544.7 C598.6 542.9 587.8 556.7 596 554.9 C602.4 553.4 593.7 544.1 600.2 542.6 C606.6 541.2 598.5 554.6 604.9 553.2 C613 551.4 601.4 542.1 609.5 540.3 C616.2 538.8 607.5 552.3 614.3 550.8" fill="none" stroke="#2a2a2a" stroke-width="2.1" />
<path d="M618.5 537.6 Q630.8 535.5 636.9 533.6 Q643 531.8 649.1 530.7 Q655.2 529.6 661.4 528.1 Q667.5 526.6 673.6 525.4 Q679.8 524.2 685.9 522.8 Q692 521.3 698.1 520.3 Q704.2 519.4 710.4 518.1 L716.5 516.9" fill="none" stroke="#111" stroke-width="2.6" />
<path d="M623.5 549.7 Q636.2 547.4 642.6 546 Q648.9 544.5 655.3 543 Q661.6 541.5 668 540 Q674.4 538.5 680.7 537.3 Q687.1 536 693.4 534.4 Q699.8 532.9 706.1 531.8 L712.5 530.8" fill="none" stroke="#2a2a2a" stroke-width="1.9" />
<path d="M623 549.4 C629.7 547.9 620.6 537.8 627.4 536.3 C634.5 534.7 624.3 548.9 631.4 547.3 C638.7 545.7 629.2 535.6 636.5 534 C643.6 532.4 633.9 546.8 641 545.2 C647.9 543.7 639.4 533.5 646.4 532 C652.9 530.5 644.5 544.8 651.1 543.3 C657.9 541.8 648.6 532 655.4 530.5 C663.4 528.8 652.2 542.6 660.2 540.8 C667.9 539.1 656.7 529.6 664.3 527.9 C672 526.2 661.5 541.1 669.2 539.4 C677.2 537.6 666.1 527.9 674.1 526.1 C681.5 524.4 670.3 538.9 677.7 537.3 C684.6 535.9 675.7 525.7 682.6 524.3 C688.9 523.1 681.3 536.6 687.7 535.4 C693.7 534.2 685.9 523.6 691.9 522.4 C698.9 521 690 534.8 697 533.5 C704.7 531.9 693.5 522.2 701.2 520.7 C709 519.1 698.8 533 706.6 531.4 C713.3 530.1 704.6 519.7 711.3 518.4 C717.9 517.1 708.3 530.5 714.9 529.2" fill="none" stroke="#2a2a2a" stroke-width="2.1" />
<path d="M719.5 516.3 Q733.4 514 740.4 512.6 Q747.3 511.2 754.3 509.4 Q761.2 507.6 768.2 506.3 Q775.2 505 782.1 503.7 Q789.1 502.5 796 501.2 L803 499.9" fill="none" stroke="#111" stroke-width="2.6" />
<path d="M724.5 528.4 Q736.9 526.3 743.1 525 Q749.3 523.6 755.5 522.5 Q761.8 521.4 768 519.7 Q774.2 518 780.4 517.3 Q786.6 516.6 792.8 515 L799 513.5" fill="none" stroke="#2a2a2a" stroke-width="1.9" />
<path d="M723.1 528 C730.4 526.6 721.2 516.4 728.4 515 C735 513.7 726 527.1 732.6 525.8 C739.1 524.5 730.6 514.8 737.1 513.5 C743.4 512.3 735.9 525.6 742.1 524.4 C749 523 739.2 513.1 746.1 511.7 C753.9 510.2 742.8 523.7 750.7 522.1 C757 520.9 749.7 510.9 756 509.7 C763.4 508.2 753.7 522.2 761.1 520.7 C767.9 519.4 758.1 509.2 764.9 507.9 C771.6 506.5 762.4 520.1 769.2 518.8 C776 517.5 767.9 507.5 774.7 506.1 C781.3 504.8 772.3 518.5 778.9 517.2 C786 515.8 776.7 505.6 783.8 504.2 C790.3 502.9 781.4 516.6 787.8 515.3 C794.7 514 786.4 504 793.3 502.7 C800.7 501.2 790.6 514.6 798 513.1 C804 511.9 796.1 501.9 802.1 500.7" fill="none" stroke="#2a2a2a" stroke-width="2.1" />
<path d="M511 561.1 L514 563.1 L514.3 576.1 L509.5 576.6 L509.5 573.6" fill="none" stroke="#151515" stroke-width="1.8" />
<path d="M614 538 L617 540 L617.3 553 L612.5 553.5 L612.5 550.5" fill="none" stroke="#151515" stroke-width="1.8" />
<path d="M714.5 516.7 L717.5 518.7 L717.8 531.7 L713 532.2 L713 529.2" fill="none" stroke="#151515" stroke-width="1.8" />
<path d="M411.5 588 L411 603" fill="none" stroke="#151515" stroke-width="1.6" />
<path d="M416 588 L416 602" fill="none" stroke="#151515" stroke-width="1.6" />
<path d="M377 602 Q394.5 602.6 403.3 602.9 L412 603.3" fill="none" stroke="#151515" stroke-width="1.6" />
<path d="M378 605.5 Q394 605.6 402 605.8 L410 606" fill="none" stroke="#151515" stroke-width="1.2" />
<path d="M723.5 504 Q739.4 500.2 747.4 498.6 Q755.4 497 763.3 494.9 Q771.2 492.7 779.1 491 Q787.1 489.4 795.1 487.4 L803 485.5" fill="none" stroke="#151515" stroke-width="1.6" />
<path d="M724.9 509.8 Q740.8 506.3 748.7 504.3 Q756.6 502.2 764.6 500.4 Q772.5 498.7 780.5 496.7 Q788.4 494.7 796.4 493 L804.4 491.3" fill="none" stroke="#151515" stroke-width="1.6" />
<path d="M724.3 502.3 L726.1 510.2 M729.7 501 L731.5 508.9 M737.4 499.2 L739.2 507.1 M744.4 497.6 L746.2 505.5 M753 495.6 L754.8 503.5 M760.3 493.9 L762.1 501.8 M766.8 492.4 L768.6 500.3 M773.9 490.7 L775.7 498.6 M779.8 489.4 L781.7 497.2 M789.4 487.1 L791.2 495 M794.2 486 L796.1 493.9 M802.3 484.1 L804.1 492 " fill="none" stroke="#151515" stroke-width="1.5" />
<path d="M723 504 L729 508.5 L725 511" fill="none" stroke="#151515" stroke-width="2.2" />
<path d="M401 457 L566 548" fill="none" stroke="#151515" stroke-width="1.9" stroke-dasharray="17 9"/>
<path d="M612.5 578 L612.5 630.5 L800 630.5" fill="none" stroke="#151515" stroke-width="1.7" />
<path d="M622.5 576 L622.5 621 L787 621" fill="none" stroke="#151515" stroke-width="1.5" />
<path d="M612.5 578 L612.5 629" fill="none" stroke="#151515" stroke-width="1.5" />
<path d="M622.5 578 L622.5 629" fill="none" stroke="#151515" stroke-width="1.5" />
<path d="M612.5 580 L622.5 579.7 M612.5 584.1 L622.5 584.4 M612.5 587.3 L622.5 588.1 M612.5 591.9 L622.5 591 M612.5 595.8 L622.5 595.7 M612.5 599.1 L622.5 599 M612.5 602.3 L622.5 602.6 M612.5 606.1 L622.5 607.1 M612.5 610.8 L622.5 611.7 M612.5 614.1 L622.5 614.8 M612.5 618.1 L622.5 618.5 M612.5 622.7 L622.5 621.9 M612.5 626.3 L622.5 626.1 " fill="none" stroke="#222" stroke-width="1.2" />
<path d="M623.6 631.1 C628.4 631.1 622.8 621.5 627.6 621.5 C632.1 621.5 627.5 630.4 632 630.4 C637.3 630.4 630.4 621.9 635.7 621.9 C641 621.9 633.6 630.9 639 630.9 C643.9 630.9 638.6 621.5 643.5 621.5 C649.2 621.5 640.6 631 646.3 631 C651 631 646.6 621.5 651.3 621.5 C655.7 621.5 650.3 630.7 654.7 630.7 C659.6 630.7 653.9 621.6 658.8 621.6 C663.3 621.6 657.3 630.8 661.7 630.8 C666.4 630.8 660.8 621.8 665.5 621.8 C670.4 621.8 665.5 630.5 670.3 630.5 C675.2 630.5 668.2 621.6 673.1 621.6 C678.6 621.6 672.1 630.7 677.6 630.7 C682.1 630.7 676.4 622 680.8 622 C685.7 622 681 630.7 685.9 630.7 C691.5 630.7 683.5 622 689.2 622 C693.7 622 688.3 630.4 692.7 630.4 C698 630.4 691.9 621.9 697.1 621.9 C701.4 621.9 695.8 630.7 700 630.7 C705.7 630.7 698.1 621.6 703.8 621.6 C708.1 621.6 704.1 631 708.4 631 C713 631 707.3 621.5 711.9 621.5 C716.6 621.5 710.6 631 715.3 631 C720.8 631 714.1 621.9 719.6 621.9 C724.6 621.9 719.1 630.8 724.1 630.8 C728.8 630.8 723.2 621.7 727.9 621.7 C732.6 621.7 726.7 630.5 731.5 630.5 C736.2 630.5 730.1 621.8 734.9 621.8 C739.2 621.8 734.4 630.7 738.7 630.7 C743.7 630.7 738.1 621.5 743.1 621.5 C747.6 621.5 741.9 630.6 746.5 630.6 C751.2 630.6 745 621.7 749.7 621.7 C755 621.7 748.7 630.5 754.1 630.5 C758.9 630.5 753.1 621.4 757.9 621.4 C763 621.4 757.3 630.4 762.4 630.4 C767.5 630.4 761.1 621.7 766.2 621.7 C771.3 621.7 764.1 630.6 769.2 630.6 C774.2 630.6 768.4 621.7 773.3 621.7 C777.6 621.7 772.8 630.9 777.1 630.9 C781.7 630.9 775.7 621.6 780.3 621.6 C785.8 621.6 779.6 630.7 785.1 630.7 C790.4 630.7 783.1 621.6 788.4 621.6 C793.9 621.6 786.3 631.1 791.8 631.1 C797.2 631.1 790.5 621.7 795.9 621.7 C800.2 621.7 796.1 630.8 800.4 630.8" fill="none" stroke="#1c1c1c" stroke-width="1.5" />
<path d="M787 537 Q786.8 579 786.9 600 L787 621" fill="none" stroke="#151515" stroke-width="1.6" />
<path d="M796 537 Q796.4 579 796.2 600 L796 621" fill="none" stroke="#151515" stroke-width="1.6" />
<path d="M787 539 L796 539.2 M787 543.7 L796 544.6 M787 548.7 L796 547.8 M787 554.5 L796 555 M787 559.3 L796 558.4 M787 564.6 L796 564.4 M787 569.7 L796 570.7 M787 575.4 L796 574.6 M787 580.8 L796 580.7 M787 586.1 L796 585.9 M787 590.6 L796 590.4 M787 594.1 L796 593.8 M787 599.4 L796 598.5 M787 602.9 L796 603.6 M787 608 L796 608.1 M787 611.5 L796 610.7 M787 615.6 L796 616.5 M787 620.3 L796 621.2 " fill="none" stroke="#222" stroke-width="1.2" />
<path d="M613 586 L623 586" fill="none" stroke="#151515" stroke-width="1.9" />
<path d="M613 592 L623 592" fill="none" stroke="#151515" stroke-width="1.9" />
<path d="M787 586 L797 586" fill="none" stroke="#151515" stroke-width="2.3" />
<path d="M787 592 L797 592" fill="none" stroke="#151515" stroke-width="2.3" />
<path d="M613 602 L623 602" fill="none" stroke="#151515" stroke-width="1.9" />
<path d="M613 608 L623 608" fill="none" stroke="#151515" stroke-width="1.9" />
<path d="M787 602 L797 602" fill="none" stroke="#151515" stroke-width="2.3" />
<path d="M787 608 L797 608" fill="none" stroke="#151515" stroke-width="2.3" />
<path d="M614 596 h9 M614 599 h9 M614 609 h9 M614 612 h9 M789 594 h8 M789 598 h8 M789 601 h8 M789 610 h8 M789 613 h8" fill="none" stroke="#151515" stroke-width="1.7" />
<path d="M612 589 L651 589.5" fill="none" stroke="#151515" stroke-width="1.4" />
<path d="M612 605.5 L651 605" fill="none" stroke="#151515" stroke-width="1.4" />
<path d="M776.5 589 L790 589" fill="none" stroke="#151515" stroke-width="1.4" />
<path d="M776.5 605 L790 605" fill="none" stroke="#151515" stroke-width="1.4" />
<path d="M651 577.5 L776.5 577.5 L776.5 613.5 L651 614Z" fill="#fff" stroke="#151515" stroke-width="1.8" />
<path d="M715.5 572.5 L715.5 615.5" fill="none" stroke="#151515" stroke-width="1.6" />
<path d="M719 572.5 L719 615.5" fill="none" stroke="#151515" stroke-width="1.6" />
<ellipse cx="749.5" cy="593.8" rx="15" ry="12.4" fill="#fff" stroke="#151515" stroke-width="1.7"/>
<path d="M749.5 593.8 L749.5 581.4" fill="none" stroke="#151515" stroke-width="1.6" />
<path d="M748.5 593.8 L763.5 593.8" fill="none" stroke="#151515" stroke-width="2.5" />
<path d="M758.5 589.3 L764.5 593.8 L758.5 598.3" fill="none" stroke="#151515" stroke-width="2.1" />
<circle cx="749.5" cy="593.8" r="2" fill="#151515"/>
<ellipse cx="264" cy="626" rx="15.5" ry="15.5" fill="#fff" stroke="#151515" stroke-width="1.7"/>
<path d="M264 626 L264 610.5" fill="none" stroke="#151515" stroke-width="1.6" />
<path d="M263 626 L278.5 626" fill="none" stroke="#151515" stroke-width="2.5" />
<path d="M273.5 621.5 L279.5 626 L273.5 630.5" fill="none" stroke="#151515" stroke-width="2.1" />
<circle cx="264" cy="626" r="2" fill="#151515"/>
<rect x="656.5" y="671" width="11" height="239" fill="#fff"/>
<path d="M656.5 671 Q656.6 705.1 656.5 722.2 Q656.5 739.3 656.3 756.4 Q656.2 773.4 656.5 790.5 Q656.8 807.6 656.5 824.6 Q656.2 841.7 656.4 858.8 Q656.5 875.9 656.5 892.9 L656.5 910" fill="none" stroke="#151515" stroke-width="1.5" />
<path d="M667.5 671 Q667.9 705.1 667.7 722.2 Q667.6 739.3 667.6 756.4 Q667.6 773.4 667.5 790.5 Q667.4 807.6 667.3 824.6 Q667.2 841.7 667.3 858.8 Q667.5 875.9 667.5 892.9 L667.5 910" fill="none" stroke="#151515" stroke-width="1.5" />
<path d="M656.5 673 L667.5 673.4 M656.5 676.9 L667.5 677.5 M656.5 680.1 L667.5 680.6 M656.5 683.5 L667.5 683.7 M656.5 686.9 L667.5 686.6 M656.5 690.3 L667.5 690 M656.5 694.7 L667.5 694.8 M656.5 698.6 L667.5 698.8 M656.5 703.7 L667.5 703.4 M656.5 708.1 L667.5 708.1 M656.5 713.5 L667.5 713.2 M656.5 718.2 L667.5 717.7 M656.5 721.8 L667.5 722.3 M656.5 726.2 L667.5 725.7 M656.5 729.3 L667.5 730 M656.5 733.2 L667.5 733.6 M656.5 737.2 L667.5 737.5 M656.5 741.6 L667.5 742.5 M656.5 746.8 L667.5 746.7 M656.5 751 L667.5 750.4 M656.5 755.8 L667.5 755 M656.5 759.5 L667.5 760.2 M656.5 762.6 L667.5 763 M656.5 766.9 L667.5 767 M656.5 770.7 L667.5 770 M656.5 776 L667.5 776.6 M656.5 781 L667.5 780.2 M656.5 785.9 L667.5 785.4 M656.5 789.4 L667.5 789.4 M656.5 793.8 L667.5 793.1 M656.5 798.7 L667.5 798.9 M656.5 803.9 L667.5 804.8 M656.5 808.6 L667.5 808.3 M656.5 813.9 L667.5 814.4 M656.5 817.6 L667.5 818.3 M656.5 822.4 L667.5 821.9 M656.5 825.9 L667.5 825 M656.5 830.2 L667.5 829.7 M656.5 833.9 L667.5 833.4 M656.5 837.2 L667.5 837.2 M656.5 840.8 L667.5 840.4 M656.5 844.5 L667.5 844.5 M656.5 849.6 L667.5 848.9 M656.5 854.7 L667.5 855.4 M656.5 859.2 L667.5 859.3 M656.5 864 L667.5 864 M656.5 868.6 L667.5 869.4 M656.5 873.5 L667.5 873 M656.5 876.5 L667.5 877.4 M656.5 880.4 L667.5 881 M656.5 883.9 L667.5 883.8 M656.5 887.8 L667.5 888.3 M656.5 893.1 L667.5 893.1 M656.5 897.5 L667.5 897.2 M656.5 901 L667.5 901.9 M656.5 904.2 L667.5 905.1 M656.5 908.8 L667.5 908 " fill="none" stroke="#222" stroke-width="1.2" />
<path d="M657 908 L668 908" fill="none" stroke="#151515" stroke-width="2.5" />
<path d="M656.5 631 L657.5 676" fill="none" stroke="#151515" stroke-width="1.5" />
<path d="M660 631 L661 676" fill="none" stroke="#151515" stroke-width="1.2" />
<path d="M662 632 L669 670.5 L677 669 L668 632Z" fill="#fff" stroke="#151515" stroke-width="1.6" />
<path d="M666.5 660.5 L675 659" fill="none" stroke="#151515" stroke-width="1.4" />
<path d="M664.5 634 L671 670" fill="none" stroke="#151515" stroke-width="1.2" />
<path d="M654 671 L668 671" fill="none" stroke="#151515" stroke-width="2.4" />
<path d="M655 676 L668 676" fill="none" stroke="#151515" stroke-width="2" />
<path d="M647 673 L633 684" fill="none" stroke="#151515" stroke-width="3" />
<path d="M632.3 674 L631.3 685.3 L644 683" fill="none" stroke="#151515" stroke-width="3.4" stroke-linejoin="miter"/>
<path d="M673.5 672.5 L683 680.5" fill="none" stroke="#151515" stroke-width="2" stroke-dasharray="4 3"/>
<path d="M690 670.5 L690 684.3 L676 686" fill="none" stroke="#151515" stroke-width="3.4" stroke-linejoin="miter"/>
<path d="M48 569 Q48.2 599 48.1 614 L48 629" fill="none" stroke="#151515" stroke-width="1.4" />
<path d="M52.5 568 Q52.5 598.5 52.5 613.8 L52.5 629" fill="none" stroke="#151515" stroke-width="1.4" />
<path d="M41 630 L59 630 L59 637.5 L41 637.5Z" fill="#fff" stroke="#151515" stroke-width="1.7" />
<path d="M41 629 L41 638.5" fill="none" stroke="#151515" stroke-width="2.8" />
<path d="M59 629.5 L59 638" fill="none" stroke="#151515" stroke-width="2.1" />
<path d="M0 632 Q20.5 632.2 30.8 632.6 L41 633" fill="none" stroke="#151515" stroke-width="2.3" />
<path d="M59 632.5 L100 631.5 L137.5 630.3 L129 637 L100 635.5 L59 634.5Z" fill="#fff" stroke="#151515" stroke-width="1.5" />
<path d="M107 623 C117 625 121 632 119 640 C118 646 114 650 109 652" fill="none" stroke="#151515" stroke-width="1.6" />
<path d="M108 644 L108.5 652.5 L117 650" fill="none" stroke="#151515" stroke-width="1.7" />
<path d="M0 617 L2 615" fill="none" stroke="#151515" stroke-width="1.7" />
<path d="M497 599 Q496.7 634 496.9 651.5 L497 669" fill="none" stroke="#151515" stroke-width="1.4" />
<path d="M500.6 598 Q500.7 633.5 500.7 651.2 L500.6 669" fill="none" stroke="#151515" stroke-width="1.4" />
<path d="M485 668.5 L507.5 668.5 L507.5 674 L485 674Z" fill="#fff" stroke="#151515" stroke-width="1.5" />
<path d="M428 668 L460 668.8 L486 669.5 L486 672.5 L460 672 L428 671Z" fill="#fff" stroke="#151515" stroke-width="1.4" />
<path d="M507 670.5 Q524.3 670.3 532.9 669.7 Q541.5 669.1 550.1 669.1 Q558.8 669.1 567.4 668.8 L576 668.5" fill="none" stroke="#151515" stroke-width="2.3" />
<path d="M545 667 Q560.5 666.5 568.2 666.5 L576 666.5" fill="none" stroke="#151515" stroke-width="1.2" />
<path d="M430 665 L430.4 676" fill="none" stroke="#151515" stroke-width="1.8" />
<path d="M487.5 665 L487.9 676" fill="none" stroke="#151515" stroke-width="1.8" />
<path d="M507.5 665 L507.9 676" fill="none" stroke="#151515" stroke-width="1.8" />
<path d="M573 665 L573.4 676" fill="none" stroke="#151515" stroke-width="1.8" />
<path d="M426 669.5 L432 669.5" fill="none" stroke="#151515" stroke-width="1.5" />
<path d="M445 679 C438 678 433 672 434.5 665 C435.5 660 438 657 443 655" fill="none" stroke="#151515" stroke-width="1.6" />
<path d="M436 656.5 L443.5 654 L444.5 662" fill="none" stroke="#151515" stroke-width="1.8" />
<path d="M555 656 C561 660 563 666 561 671 C559 676 555 679 550 681" fill="none" stroke="#151515" stroke-width="1.6" />
<path d="M549 673 L549 681.5 L557.5 679.5" fill="none" stroke="#151515" stroke-width="1.8" />
<path d="M71 670 C66 656 52 651 41 655 C30 659 22 667 18 675" fill="none" stroke="#151515" stroke-width="1.5" />
<path d="M9 661 L11.5 688 L35.5 680.5 L35 671 L19.5 676 L13 660.5Z" fill="#fff" stroke="#151515" stroke-width="1.6" stroke-linejoin="miter"/>
<path d="M453.5 632 C425 640 402 670 398 712" fill="none" stroke="#151515" stroke-width="1.5" />
<path d="M387 704.5 L393.5 726 L414 713 L409 707.5 L396.5 719 L391 703Z" fill="#fff" stroke="#151515" stroke-width="1.6" stroke-linejoin="miter"/>
<path d="M519.5 706 C516 692 505 685 495 686 C482 687 471 700 466 715" fill="none" stroke="#151515" stroke-width="1.5" />
<path d="M456.5 695 L463.5 722.5 L481 711.5 L477.5 706 L467.5 713 L462 693.5Z" fill="#fff" stroke="#151515" stroke-width="1.6" stroke-linejoin="miter"/>
<path d="M595 600.5 C575 598 556 606 541 621" fill="none" stroke="#151515" stroke-width="1.5" />
<path d="M540.5 602 L536 623.5 L557.5 621.5 L559.5 616 L545 617.8 L546.5 603.5Z" fill="#fff" stroke="#151515" stroke-width="1.6" stroke-linejoin="miter"/>
<path d="M327 763 C340 759 360 762 380 762 C395 762 410 758 421 763" fill="none" stroke="#151515" stroke-width="1.6" stroke-dasharray="7 4"/>
<path d="M322.5 757.5 L310.5 766 L321 773" fill="none" stroke="#151515" stroke-width="3.8" stroke-linejoin="miter"/>
<path d="M422 757.5 L432.5 765 L422 774" fill="none" stroke="#151515" stroke-width="3.8" stroke-linejoin="miter"/>
<path d="M396 757 C396.5 780 398 800 405 818" fill="none" stroke="#151515" stroke-width="1.5" />
<path d="M387 817 L386 823.5 L410 828.5 L417 800 L411 798.5 L406.5 820Z" fill="#fff" stroke="#151515" stroke-width="1.6" stroke-linejoin="miter"/>
<path d="M219.2 531 Q219.6 563.3 219.4 579.5 Q219.1 595.7 219.2 611.8 L219.2 628" fill="none" stroke="#151515" stroke-width="1.5" />
<path d="M222.2 530 Q221.8 562.7 221.9 579 Q222.1 595.3 222.1 611.7 L222.2 628" fill="none" stroke="#151515" stroke-width="1.5" />
<path d="M204 627.5 L231 627.5 L231 634 L204 634Z" fill="#fff" stroke="#151515" stroke-width="1.6" />
<path d="M199 626 L206 627 L206 635" fill="none" stroke="#151515" stroke-width="2.6" />
<path d="M231 624 L231 636" fill="none" stroke="#151515" stroke-width="1.8" />
<path d="M208.5 637 L179 748" fill="none" stroke="#151515" stroke-width="1.5" stroke-dasharray="9.5 9.5"/>
<path d="M177.6 740.1 L179 748 L184.1 741.9" fill="none" stroke="#151515" stroke-width="1.5" />
<path d="M216 637 L208 759" fill="none" stroke="#151515" stroke-width="1.5" stroke-dasharray="9.5 9.5"/>
<path d="M205.1 751.5 L208 759 L211.8 752" fill="none" stroke="#151515" stroke-width="1.5" />
<path d="M222 637 L236 759" fill="none" stroke="#151515" stroke-width="1.5" stroke-dasharray="9.5 9.5"/>
<path d="M231.8 752.2 L236 759 L238.5 751.4" fill="none" stroke="#151515" stroke-width="1.5" />
<path d="M227.5 637 L260 755" fill="none" stroke="#151515" stroke-width="1.5" stroke-dasharray="9.5 9.5"/>
<path d="M254.8 748.9 L260 755 L261.3 747.1" fill="none" stroke="#151515" stroke-width="1.5" />
<path d="M0 775.6 L242 912 L0 912Z" fill="#fff"/>
<path d="M0 775.6 Q60.4 809.8 90.7 826.7 Q120.9 843.7 151.2 860.6 Q181.5 877.5 211.7 894.5 L242 911.5" fill="none" stroke="#151515" stroke-width="2" />
<path d="M-11.1 783.4 Q-4.9 784.9 1.3 788.1 M11.1 788.6 Q16.9 790.3 22.7 793.6 M8.4 799.5 Q15.6 801.3 22.7 804.7 M27.6 804 Q34.5 806.4 41.4 810.3 M49.7 809.3 Q56 811.4 62.3 815.2 M-9.1 806.8 Q-2.7 808.6 3.8 811.9 M13 812.1 Q18.6 814 24.1 817.6 M33.1 816.8 Q38.6 818.2 44.1 821.2 M54.1 821.8 Q60.7 824 67.3 827.8 M77.8 827.4 Q84 828.9 90.3 831.9 M4 821.4 Q9.8 822.7 15.7 825.6 M28.5 827.2 Q33.8 828.4 39.1 831.2 M52.7 833 Q59.9 835.7 67.1 840 M73.8 838 Q80.9 839.8 88 843.3 M97.1 843.5 Q104.2 845.4 111.3 849 M116.9 848.1 Q123.4 850.5 129.9 854.5 M-5.2 830.8 Q1.5 832.9 8.2 836.6 M19.5 836.6 Q24.7 837.8 29.9 840.5 M39 841.2 Q44.7 843.1 50.3 846.6 M63.5 847 Q69.6 848.5 75.8 851.6 M84.5 852 Q90.8 853.7 97 857 M108.2 857.6 Q115.4 859.8 122.6 863.7 M130.9 862.9 Q137.8 865.1 144.7 868.8 M151 867.7 Q158.1 870.5 165.3 874.8 M3.6 844.3 Q9 845.4 14.4 848 M24.4 849.3 Q29.5 850.4 34.6 853.2 M47.1 854.6 Q53 856.3 58.8 859.6 M69.9 860 Q75.6 861.5 81.3 864.6 M94.2 865.8 Q100.5 867.6 106.8 871 M116.4 871 Q122.4 872.7 128.5 875.9 M140.9 876.8 Q146.4 878.8 151.9 882.4 M165 882.5 Q172 884.4 179 887.9 M187.1 887.7 Q194.3 889.8 201.5 893.5 M-10.8 852.4 Q-4.3 854.3 2.3 857.8 M11.5 857.7 Q17.6 860 23.8 863.8 M33.6 862.9 Q39.5 864.2 45.3 867 M55.6 868.1 Q61.2 869.8 66.8 873.1 M78.4 873.5 Q84.4 874.9 90.5 877.9 M100.4 878.7 Q106.4 880.7 112.5 884.2 M125.2 884.6 Q130.8 886.2 136.4 889.3 M144.7 889.2 Q151.5 891.1 158.3 894.5 M168.7 894.9 Q175.5 896.8 182.3 900.2 M193.1 900.7 Q199.2 902.4 205.3 905.8 M2.1 867 Q7.6 868.3 13 871.1 M26.1 872.7 Q32.9 875.3 39.7 879.5 M50.6 878.5 Q57.2 880.8 63.7 884.7 M73.9 884 Q80.7 886.4 87.5 890.4 M93.9 888.7 Q100.8 890.7 107.6 894.2 M114.4 893.6 Q121.5 895.3 128.5 898.7 M136.5 898.8 Q142.3 900.8 148 904.3 M-0.2 878 Q6.2 879.5 12.6 882.7 M23.2 883.5 Q28.3 885.3 33.4 888.6 M46.8 889.1 Q53.6 891.5 60.3 895.6 M69.2 894.4 Q76.3 896.8 83.5 900.8 M91.2 899.6 Q97 901.1 102.9 904.3 M5.4 890.8 Q12.6 893.3 19.8 897.5 M26.4 895.8 Q32.1 897.4 37.7 900.6 M48.4 900.9 Q53.4 902.7 58.5 906 M-0.7 900.8 Q6.3 902.8 13.3 906.4 " fill="none" stroke="#151515" stroke-width="1.5" />
<path d="M38 907 c-6 -7 6 -11 2 -18 c-3 -5 -7 -6 -1 -13 l1 -3" fill="none" stroke="#151515" stroke-width="1.5" />
<path d="M25.2 875 L27 878.8 L37.1 872 L46.9 878.4 L49 874.5 L37.6 866.9Z" fill="#fff" stroke="#151515" stroke-width="1.5" />
<path d="M45.6 873 L48.6 881" fill="none" stroke="#151515" stroke-width="1.9" />
<path d="M86 907 c-6 -7 6 -11 2 -18 c-3 -5 -7 -6 -1 -13 l1 -3" fill="none" stroke="#151515" stroke-width="1.5" />
<path d="M73.2 875 L75 878.8 L85.2 872 L94.9 878.4 L97 874.5 L85.6 866.9Z" fill="#fff" stroke="#151515" stroke-width="1.5" />
<path d="M93.7 873 L96.6 881" fill="none" stroke="#151515" stroke-width="1.9" />
<path d="M135 907 c-6 -7 6 -11 2 -18 c-3 -5 -7 -6 -1 -13 l1 -3" fill="none" stroke="#151515" stroke-width="1.5" />
<path d="M122.2 875 L124 878.8 L134.2 872 L143.9 878.4 L146.1 874.5 L134.6 866.9Z" fill="#fff" stroke="#151515" stroke-width="1.5" />
<path d="M142.7 873 L145.6 881" fill="none" stroke="#151515" stroke-width="1.9" />
<path d="M193 908 c-6 -7 6 -11 2 -18 c-3 -5 -7 -6 -1 -13 l1 -3" fill="none" stroke="#151515" stroke-width="1.5" />
<path d="M179.2 876.2 L181 880.4 L192.1 873 L202.7 879.9 L205 875.8 L192.5 867.5Z" fill="none" stroke="#151515" stroke-width="1.5" />
<path d="M201.3 874 L204.5 882" fill="none" stroke="#151515" stroke-width="1.9" />
<path d="M253 905 c-6 -7 6 -11 2 -18 c-3 -5 -7 -6 -1 -13 l1 -3" fill="none" stroke="#151515" stroke-width="1.5" />
<path d="M238 873.5 L240 878 L252 870 L263.5 877.5 L266 873 L252.5 864Z" fill="none" stroke="#151515" stroke-width="1.5" />
<path d="M262 871 L265.5 879" fill="none" stroke="#151515" stroke-width="1.9" />
<path d="M306 905 c-6 -7 6 -11 2 -18 c-3 -5 -7 -6 -1 -13 l1 -3" fill="none" stroke="#151515" stroke-width="1.5" />
<path d="M291 873.5 L293 878 L305 870 L316.5 877.5 L319 873 L305.5 864Z" fill="none" stroke="#151515" stroke-width="1.5" />
<path d="M315 871 L318.5 879" fill="none" stroke="#151515" stroke-width="1.9" />
<path d="M346 936 L397.5 936 L397.5 961 L346 961Z" fill="#fff" stroke="#151515" stroke-width="1.6" />
<path d="M352.5 921 L358 934 L358 936" fill="none" stroke="#151515" stroke-width="1.5" />
<path d="M387.5 921 L384 934 L384 936" fill="none" stroke="#151515" stroke-width="1.5" />
<path d="M375.4 955.2 h1 M387.4 946.2 h1 M375.7 953 h1 M383.8 953.7 h1 M375.2 943.3 h1 M381.1 949.8 h1 M373.6 958.7 h1 M354.4 954.4 h1 M363.3 953.3 h1 M392.7 943.8 h1 M374.7 949.1 h1 M371.3 941.5 h1 M377.4 956.8 h1 M379.2 944.1 h1 M385.9 946.8 h1 M354.8 950.7 h1 M369.6 949.1 h1 M394.6 950 h1 M392.8 945.4 h1 M383.7 939.6 h1 M362.1 952.5 h1 M380.4 955.4 h1 M365.9 943.7 h1 M364.8 949.3 h1 M349.1 945.9 h1 M378.9 941.1 h1 M362.6 956.3 h1 M391.9 943.2 h1 M356.4 940.5 h1 M352 954.7 h1 M382.7 943.6 h1 M371 952.6 h1 M349.3 955.2 h1 M388.4 942.4 h1 M381.1 952.7 h1 M363.8 956.4 h1 M358.3 948 h1 M362.7 947.3 h1 M386.2 950 h1 M376.6 958.7 h1 M362.7 919.2 h1 M374.6 917.9 h1 M384.9 921.5 h1 M369.2 923.2 h1 M380.8 932.4 h1 M376.3 918.3 h1 M366.7 928.4 h1 M362.5 931.8 h1 M382.2 919.3 h1 M366.9 919.3 h1 M377.6 915.9 h1 M376.9 916.2 h1 M381.2 925.3 h1 M373.5 916.8 h1 " fill="none" stroke="#222" stroke-width="1.5" />
<path d="M276.2 926.6 l-2.3 9.3 M279.2 926.8 l-2.3 9.3 M282.2 926.1 l-2 9.4 M285.2 925.3 l-2.8 9.2 M291.2 925.7 l-3.4 9 M294.2 925.6 l-3.6 9 M297.2 925 l-3.6 9 M302.1 926.4 l-4.2 7.4 M305.1 926.1 l-4.1 7.4 M308.1 926.7 l-3.3 7.8 M311.1 925.9 l-3.4 7.8 M314.1 925.5 l-3.5 7.7 M320.6 926.6 l-3.1 9.1 M323.6 925.4 l-2.6 9.2 M326.6 925.6 l-3.7 8.8 M329.6 926.6 l-3.7 8.8 M335.5 925.9 l-3.3 10.2 M338.5 926.9 l-3.6 10.1 M341.5 926 l-4 10 M344.5 926.2 l-3.8 10.1 M285.5 934.5 l-5.1 9.6 M288.5 935.2 l-5.4 9.5 M291.5 935.5 l-5.2 9.6 M295.7 933.7 l-4.4 8.1 M298.7 935.4 l-4.5 8 M301.7 935 l-4.6 7.9 M307.5 934.5 l-2.9 9.8 M310.5 934.8 l-1.9 10 M313.5 935.5 l-2.1 10 M316.5 934.7 l-2 10 M319.5 934.9 l-3.2 9.7 M326.3 934.6 l3.8 8.2 M329.3 934.8 l4.7 7.7 M332.3 935.1 l4.5 7.8 M335.3 935 l4 8 M338.3 933.6 l4.8 7.6 M344.7 934.8 l-1.7 10.1 M347.7 935.1 l-1.5 10.1 M350.7 935 l-1.7 10.1 M300.5 943.6 l-1.7 9.5 M303.5 943.4 l-1.9 9.5 M306.5 943 l-2 9.5 M313.4 942.5 l-3 8.1 M316.4 942.8 l-2.3 8.3 M319.4 943.3 l-2 8.4 M323.7 943 l-2.1 8.9 M326.7 943 l-2.9 8.7 M329.7 943.1 l-2.6 8.8 M332.7 942.1 l-3 8.7 M335.7 942.7 l-1.8 9 M340.7 942 l-2 9.6 M343.7 943.3 l-1.4 9.7 M346.7 942.9 l-1.4 9.7 M324.2 952.2 l-1.7 8.4 M327.2 952 l-1.5 8.4 M330.2 951.9 l-1.3 8.5 M333.2 952.2 l-2.2 8.3 M336.2 950.8 l-2 8.3 M340.3 950.8 l-3.3 7.8 M343.3 952.5 l-3.7 7.6 M346.3 951.7 l-3.2 7.8 M342.7 959.3 l-5 8.6 M345.7 959.8 l-4.5 8.8 M348.7 960.1 l-5 8.6 M351.7 959.8 l-4.6 8.8 M398.2 926.6 l-5.4 9.4 M401.2 925.6 l-4.8 9.7 M404.2 926.3 l-5.6 9.3 M407.2 926.6 l-5.7 9.2 M410.2 926.8 l-4.8 9.7 M414.5 926.6 l4 7.9 M417.5 926.8 l4.1 7.9 M420.5 925.8 l4.7 7.6 M423.5 926.5 l3.9 8 M426.5 927 l4.7 7.5 M432.7 926.2 l3.5 10.3 M435.7 927 l3.5 10.3 M438.7 926.3 l3.6 10.3 M441.7 925.3 l3.4 10.3 M444.7 926.1 l4.2 10 M449.1 926.2 l4.4 7.7 M452.1 925.9 l4.6 7.6 M455.1 927 l3.8 8 M458.1 925.7 l4.5 7.6 M461.1 925.4 l4 7.9 M467.6 926.4 l4.3 9.3 M470.6 926.3 l3.6 9.5 M473.6 926 l3.8 9.5 M477.7 926.7 l2 9.2 M480.7 925.8 l1.8 9.3 M483.7 925.8 l2.6 9.1 M486.7 926.5 l2.6 9.1 M400.7 934.7 l2.4 10.6 M403.7 934.3 l1.6 10.8 M406.7 934.6 l1.3 10.8 M411.3 933.6 l-2.6 7.8 M414.3 935.1 l-2.2 7.9 M417.3 934.6 l-1.9 7.9 M420.3 934.2 l-1.7 8 M423.3 934.8 l-2.6 7.8 M427.4 934.2 l5.4 9.1 M430.4 934.9 l5.4 9 M433.4 935.3 l4.4 9.6 M438.5 935.2 l-2.2 9.4 M441.5 935.4 l-2.1 9.4 M444.5 935 l-2.6 9.3 M447.5 934.4 l-2.2 9.4 M450.5 934.5 l-3 9.2 M455.3 934.2 l1.5 8.7 M458.3 933.7 l1.7 8.6 M461.3 935 l1 8.7 M464.3 934.7 l2 8.6 M467.3 934.1 l1.6 8.6 M474.2 935.5 l3.3 8.8 M477.2 934.3 l3.7 8.7 M480.2 934.9 l3.6 8.7 M483.2 933.8 l3.6 8.7 M486.2 934.7 l3.2 8.9 M399.8 942 l3.9 10 M402.8 942.3 l4.7 9.7 M405.8 942.2 l4.7 9.7 M408.8 943.5 l3.7 10.1 M414.5 943.9 l4.7 8.6 M417.5 942.3 l4.4 8.8 M420.5 942.2 l3.8 9 M424.6 943.7 l3.8 10.1 M427.6 942.4 l3.6 10.2 M430.6 942.6 l4.2 9.9 M433.6 943.5 l4.3 9.9 M436.6 942.8 l3.5 10.2 M441.1 943.6 l2.3 9.9 M444.1 943 l3.5 9.6 M447.1 943.1 l3.4 9.6 M450.1 943.7 l2.3 9.9 M454.8 942.5 l-3.4 9.2 M457.8 943.7 l-2.9 9.3 M460.8 942.4 l-2.6 9.4 M463.8 943 l-3.7 9.1 M466.8 942.5 l-3.5 9.1 M401.4 951.7 l2.7 8.1 M404.4 951.9 l3.6 7.7 M407.4 951.7 l3.1 8 M410.4 951.7 l2.9 8 M417 951.2 l3.4 8.5 M420 951.2 l3.1 8.6 M423 952.2 l3.5 8.4 M426 951.9 l2.9 8.6 M432.5 952.4 l2.3 8.9 M435.5 952.3 l2.8 8.7 M438.5 951.8 l2.3 8.9 M441.5 952.5 l2.1 8.9 M400.5 959.7 l-3.2 8.1 M403.5 959.4 l-3.6 7.9 M406.5 959.8 l-3.8 7.8 M409.5 960.5 l-3.8 7.8 M412.5 960.3 l-4.1 7.7 " fill="none" stroke="#1c1c1c" stroke-width="1.2" />
<path d="M275 925.4 Q298.7 925.3 310.5 925.3 Q322.3 925.3 334.2 925.4 L346 925.6" fill="none" stroke="#222" stroke-width="1.7" />
<path d="M398 925.2 Q420.7 924.7 432.1 924.6 Q443.5 924.5 454.9 924.6 Q466.3 924.8 477.6 924.6 L489 924.4" fill="none" stroke="#222" stroke-width="1.7" />
<path d="M340 926 L347 936" fill="none" stroke="#151515" stroke-width="1.6" />
<path d="M404 926 L397 936" fill="none" stroke="#151515" stroke-width="1.6" />
<path d="M346 301.5 L321 301.5 L263.8 595" fill="none" stroke="#000" stroke-width="6" stroke-linejoin="miter" stroke-linecap="butt" opacity="0.07"/>
<path d="M345 298.5 L320 298.5 L262.8 592" fill="none" stroke="#8f8f8f" stroke-width="3.4" stroke-linejoin="miter" stroke-linecap="butt"/>
<path d="M255 574.5 L262.6 592.5 L274.5 579" fill="none" stroke="#8f8f8f" stroke-width="3.4" />
<path d="M801 650.5 L719 613.2" fill="none" stroke="#000" stroke-width="6" stroke-linejoin="miter" stroke-linecap="butt" opacity="0.07"/>
<path d="M800 647.5 L718 610.2" fill="none" stroke="#8f8f8f" stroke-width="3.4" stroke-linejoin="miter" stroke-linecap="butt"/>
<path d="M722 626.5 L717.5 610 L734.5 606" fill="none" stroke="#8f8f8f" stroke-width="3.4" />
<path d="M488 986.6 L459 986.6 L360.8 834.5" fill="none" stroke="#000" stroke-width="6" stroke-linejoin="miter" stroke-linecap="butt" opacity="0.07"/>
<path d="M487 983.6 L458 983.6 L359.8 831.5" fill="none" stroke="#8f8f8f" stroke-width="3.4" stroke-linejoin="miter" stroke-linecap="butt"/>
<path d="M360 848 L359.5 831 L374.5 838.5" fill="none" stroke="#8f8f8f" stroke-width="3.4" />
<g font-family="Liberation Sans, sans-serif" font-size="17.6" fill="#111">
<text x="5" y="293.5" textLength="160.5" lengthAdjust="spacingAndGlyphs" style="white-space:pre">system has a lower</text>
<text x="0" y="318.5" textLength="167" lengthAdjust="spacingAndGlyphs" style="white-space:pre">from the sun during</text>
<text x="-2" y="343.5" textLength="78" lengthAdjust="spacingAndGlyphs" style="white-space:pre">r months.</text>
<text x="361.4" y="293" textLength="199.6" lengthAdjust="spacingAndGlyphs" style="white-space:pre">Radiant electric heaters</text>
<text x="361.4" y="318" textLength="179.4" lengthAdjust="spacingAndGlyphs" style="white-space:pre">supplement the solar</text>
<text x="361.4" y="343" textLength="227.6" lengthAdjust="spacingAndGlyphs" style="white-space:pre">heating as required.  These</text>
<text x="361.4" y="368" textLength="205.6" lengthAdjust="spacingAndGlyphs" style="white-space:pre">are on a one hour timer.</text>
<text x="508.4" y="980.5" textLength="212.6" lengthAdjust="spacingAndGlyphs" style="white-space:pre">Doors or windows can be</text>
<text x="508.4" y="1005.4" textLength="226.6" lengthAdjust="spacingAndGlyphs" style="white-space:pre">opened between spaces to</text>
<text x="508.4" y="1030.2" textLength="228.6" lengthAdjust="spacingAndGlyphs" style="white-space:pre">help transfer either heated</text>
<text x="508.4" y="1055" textLength="86.6" lengthAdjust="spacingAndGlyphs" style="white-space:pre">of cool air.</text>
</g>
</g>
</svg>
</body></html>
